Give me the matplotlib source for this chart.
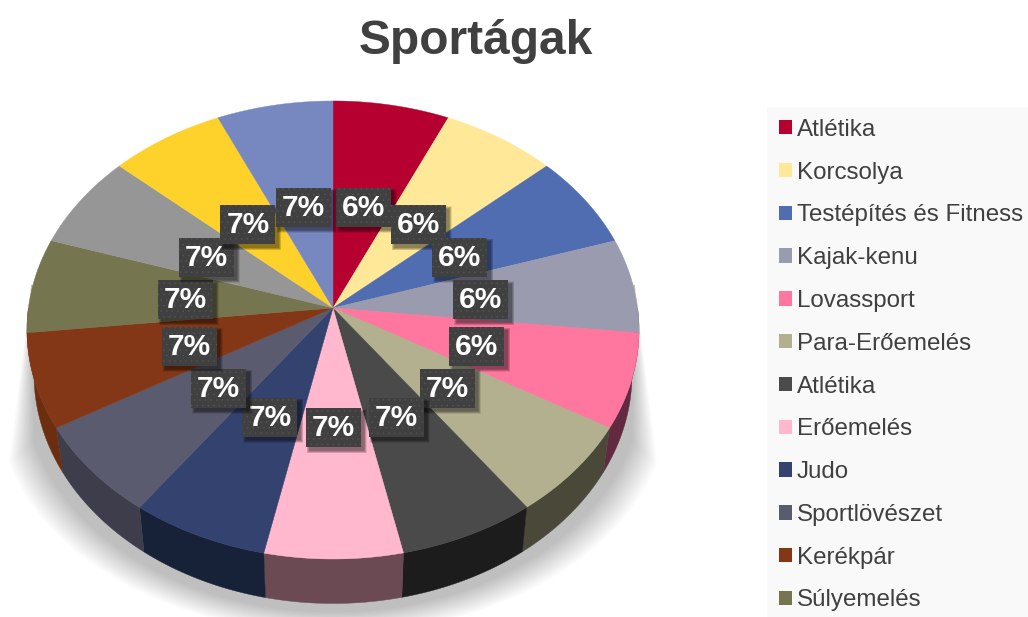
import numpy as np
import matplotlib
matplotlib.use("Agg")
import matplotlib.pyplot as plt
from matplotlib.patches import Patch, Rectangle

plt.rcParams["font.family"] = ["Liberation Sans", "DejaVu Sans"]
plt.rcParams["hatch.linewidth"] = 0.3

title = "Sportágak"
categories = ["Atlétika", "Korcsolya", "Testépítés és Fitness", "Kajak-kenu", "Lovassport",
              "Para-Erőemelés", "Atlétika", "Erőemelés", "Judo", "Sportlövészet", "Kerékpár", "Súlyemelés"]
values = [6.75, 6.66, 6.66, 6.66, 6.66, 6.63, 6.62, 6.66, 6.66, 6.66, 6.66, 6.66, 6.66, 6.66, 6.74]
percent_labels = ["6%", "6%", "6%", "6%", "6%", "7%", "7%", "7%", "7%", "7%", "7%", "7%", "7%", "7%", "7%"]
colors = ["#B50030", "#FFE897", "#4F6DB0", "#9B9BAF", "#FF779E", "#B3B08F", "#4A4A4A", "#FFB8CE",
          "#33426F", "#5B5B70", "#843717", "#75754F", "#969696", "#FFD22B", "#7788C0"]
side_colors = ["#5A0018", "#7F744B", "#273658", "#4D4D57", "#612A3F", "#4A4839", "#1C1C1C", "#6B4A53",
               "#172138", "#3D3D4B", "#6B2F10", "#3A3A27", "#4B4B4B", "#7F6915", "#3B4460"]

# Perspektive der Kreisscheibe
CX, CY = 333, 308
RX, RY, PERSP = 304.6, 226.9, 0.096
DEPTH, BOTTOM_SCALE = 44.5, 0.977


def project(theta_deg, r=1.0):
	t = np.radians(theta_deg)
	w = 1 + PERSP * r * np.cos(t)
	return CX + RX * r * np.sin(t) / w, CY - RY * r * np.cos(t) / w


def bottom_rim(theta_deg):
	x, y = project(theta_deg)
	return CX + (x - CX) * BOTTOM_SCALE, y + DEPTH


fig, ax = plt.subplots(figsize=(10.28, 6.17), dpi=100)
fig.subplots_adjust(0, 0, 1, 1)
ax.set_xlim(0, 1028)
ax.set_ylim(617, 0)
ax.axis("off")

# Schatten unter der Scheibe
theta_shadow = np.linspace(110, 250, 200)
for i in range(16):
	grow = 0.3 + 0.7 * i / 15
	sx, sy = bottom_rim(theta_shadow)
	sx = CX + (sx - CX) * (1.0 + 0.12 * grow)
	sy = sy + 30 * grow
	ax.fill(np.r_[CX - 302, sx[::-1], CX + 302], np.r_[285, sy[::-1], 285],
	        color="black", alpha=0.0155, lw=0, zorder=1)

edges = np.r_[0, np.cumsum(values)] / np.sum(values) * 360

# Seitenwand
for i in range(len(values)):
	a, b = max(edges[i], 90), min(edges[i + 1], 270)
	if a >= b:
		continue
	t = np.linspace(a, b, 30)
	x1, y1 = project(t)
	x2, y2 = bottom_rim(t)
	ax.fill(np.r_[x1, x2[::-1]], np.r_[y1, y2[::-1]], color=side_colors[i], lw=0.3, zorder=2)

# Deckfläche
for i in range(len(values)):
	t = np.linspace(edges[i], edges[i + 1], 40)
	x1, y1 = project(t)
	ax.fill(np.r_[CX, x1], np.r_[CY, y1], color=colors[i], lw=0.3, zorder=3)

# Datenbeschriftungen
box_w, box_h = 55, 39
for i, label in enumerate(percent_labels):
	lx, ly = project((edges[i] + edges[i + 1]) / 2, 0.49)
	ly = ly + 3
	for k in range(6):
		ax.add_patch(Rectangle((lx - box_w / 2 + 1 + k * 0.5, ly - box_h / 2 + 1 + k * 0.5), box_w + 5 - k, box_h + 5 - k,
		                       fc="black", ec="none", alpha=0.09, zorder=4 + i * 0.01))
	ax.add_patch(Rectangle((lx - box_w / 2, ly - box_h / 2), box_w, box_h, fc="#404040", ec="#565656",
	                       hatch="...", lw=0, zorder=4.001 + i * 0.01))
	ax.text(lx, ly + 0.5, label, color="white", fontsize=21.5, fontweight="bold", ha="center", va="center", zorder=4.002 + i * 0.01)

ax.text(476, 41, title, fontsize=34.5, fontweight="bold", color="#404040", ha="center", va="center")

# Legende
ax.add_patch(Rectangle((767, 107), 261, 510, fc="#F9F9F9", ec="none", zorder=0))
handles = [Patch(color=c, lw=0) for c in colors[:len(categories)]]
leg = ax.legend(handles, categories, loc="upper left", bbox_to_anchor=(774 / 1028, 1 - 114 / 617), frameon=False,
                fontsize=17.4, labelcolor="#404040", handlelength=0.54, handleheight=0.54, handletextpad=0.2,
                labelspacing=0.86, borderpad=0.2, borderaxespad=0)

fig.savefig("out.png", dpi=100)
